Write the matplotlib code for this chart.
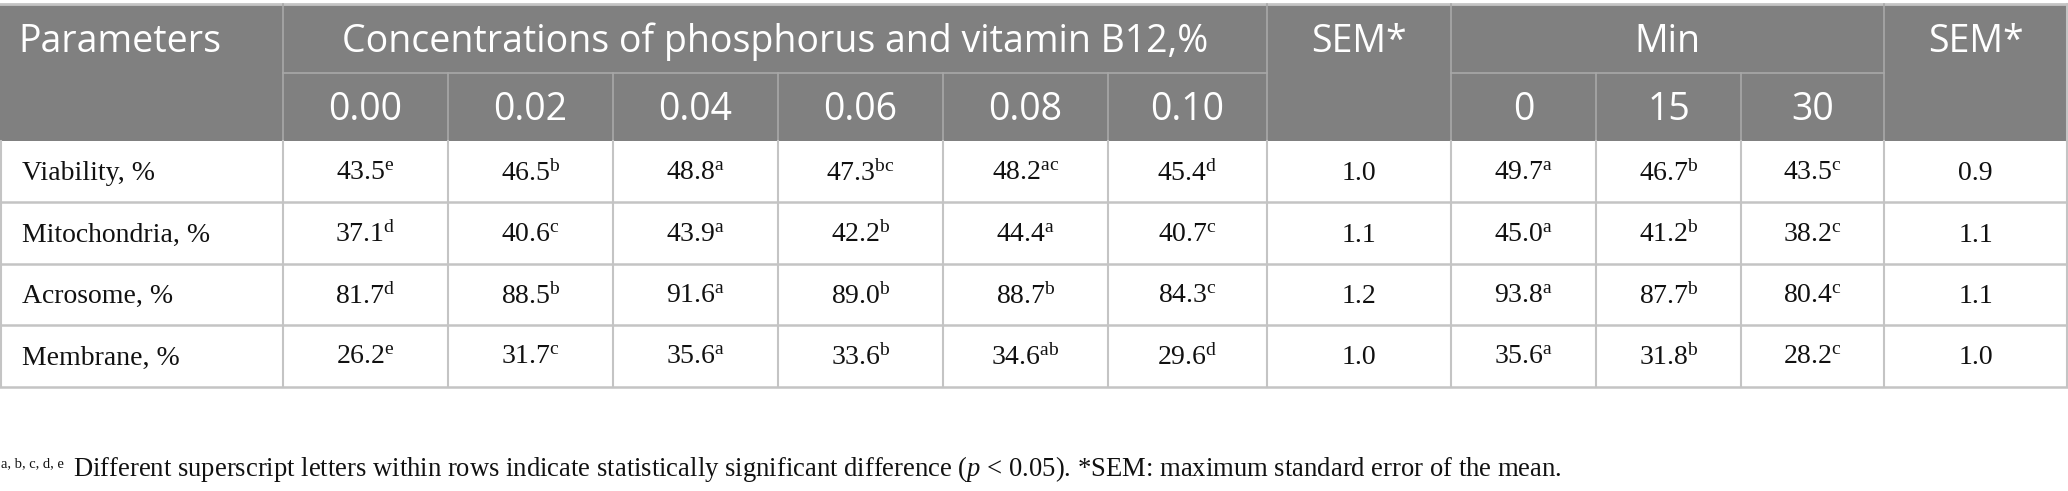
import matplotlib.pyplot as plt
from matplotlib.patches import Rectangle

plt.rcParams['mathtext.fontset'] = 'custom'
plt.rcParams['mathtext.rm'] = 'Liberation Serif'
plt.rcParams['mathtext.it'] = 'Liberation Serif:italic'

# table content
params = ['Viability, %', 'Mitochondria, %', 'Acrosome, %', 'Membrane, %']
conc_labels = ['0.00', '0.02', '0.04', '0.06', '0.08', '0.10']
min_labels = ['0', '15', '30']

conc_vals = [
    ['43.5', '46.5', '48.8', '47.3', '48.2', '45.4'],
    ['37.1', '40.6', '43.9', '42.2', '44.4', '40.7'],
    ['81.7', '88.5', '91.6', '89.0', '88.7', '84.3'],
    ['26.2', '31.7', '35.6', '33.6', '34.6', '29.6'],
]
conc_sup = [
    ['e', 'b', 'a', 'bc', 'ac', 'd'],
    ['d', 'c', 'a', 'b', 'a', 'c'],
    ['d', 'b', 'a', 'b', 'b', 'c'],
    ['e', 'c', 'a', 'b', 'ab', 'd'],
]
sem_conc = ['1.0', '1.1', '1.2', '1.0']
min_vals = [
    ['49.7', '46.7', '43.5'],
    ['45.0', '41.2', '38.2'],
    ['93.8', '87.7', '80.4'],
    ['35.6', '31.8', '28.2'],
]
min_sup = [
    ['a', 'b', 'c'],
    ['a', 'b', 'c'],
    ['a', 'b', 'c'],
    ['a', 'b', 'c'],
]
sem_min = ['0.9', '1.1', '1.1', '1.0']

# layout in pixels
W, H = 2068, 491
xs = [1, 283, 448, 613, 778, 943, 1108, 1267, 1451, 1596, 1741, 1884, 2067]
y_top, y_sub, y_head = 4, 73, 141
row_y = [141, 202, 264, 325, 387]

HEAD_BG = '#808080'
HEAD_LINE = '#a8a8a8'
BODY_LINE = '#c4c4c4'
hfont = dict(family='Open Sans', color='white', fontsize=27)
bfont = dict(family='Liberation Serif', color='#111111', fontsize=20)

fig = plt.figure(figsize=(W / 100, H / 100), dpi=100)
ax = fig.add_axes([0, 0, 1, 1])
ax.set_xlim(0, W)
ax.set_ylim(H, 0)
ax.axis('off')

# header background
ax.add_patch(Rectangle((0, y_top), xs[-1], y_head - y_top, facecolor=HEAD_BG,
                       edgecolor='none'))

# header lines
ax.plot([0, xs[-1]], [y_top, y_top], color=BODY_LINE, lw=2)
ax.plot([xs[1], xs[7]], [y_sub, y_sub], color=HEAD_LINE, lw=1.2)
ax.plot([xs[8], xs[11]], [y_sub, y_sub], color=HEAD_LINE, lw=1.2)
for i in [1, 7, 8, 11]:
    ax.plot([xs[i], xs[i]], [y_top, y_head], color=HEAD_LINE, lw=1.2)
for i in [2, 3, 4, 5, 6, 9, 10]:
    ax.plot([xs[i], xs[i]], [y_sub, y_head], color=HEAD_LINE, lw=1.2)
ax.plot([xs[-1], xs[-1]], [y_top, y_head], color=BODY_LINE, lw=1.5)

# body lines
for y in row_y[1:]:
    ax.plot([0, xs[-1]], [y, y], color=BODY_LINE, lw=1.8)
for x in xs:
    ax.plot([x, x], [row_y[0], row_y[-1]], color=BODY_LINE, lw=1.5)

# header texts
hy1 = 42
hy2 = 110
ax.text(18, hy1, 'Parameters', ha='left', va='center', **hfont)
ax.text((xs[1] + xs[7]) / 2, hy1, 'Concentrations of phosphorus and vitamin B12,%',
        ha='center', va='center', **hfont)
ax.text((xs[7] + xs[8]) / 2, hy1, 'SEM*', ha='center', va='center', **hfont)
ax.text((xs[8] + xs[11]) / 2, hy1, 'Min', ha='center', va='center', **hfont)
ax.text((xs[11] + xs[12]) / 2, hy1, 'SEM*', ha='center', va='center', **hfont)
for j, lab in enumerate(conc_labels):
    ax.text((xs[1 + j] + xs[2 + j]) / 2, hy2, lab, ha='center', va='center', **hfont)
for j, lab in enumerate(min_labels):
    ax.text((xs[8 + j] + xs[9 + j]) / 2, hy2, lab, ha='center', va='center', **hfont)

# body texts
for r, name in enumerate(params):
    yc = (row_y[r] + row_y[r + 1]) / 2 + 2
    ax.text(22, yc, name, ha='left', va='center', **bfont)
    for j in range(6):
        s = conc_vals[r][j] + r'$^{\mathrm{' + conc_sup[r][j] + '}}$'
        ax.text((xs[1 + j] + xs[2 + j]) / 2, yc, s, ha='center', va='center', **bfont)
    ax.text((xs[7] + xs[8]) / 2, yc, sem_conc[r], ha='center', va='center', **bfont)
    for j in range(3):
        s = min_vals[r][j] + r'$^{\mathrm{' + min_sup[r][j] + '}}$'
        ax.text((xs[8 + j] + xs[9 + j]) / 2, yc, s, ha='center', va='center', **bfont)
    ax.text((xs[11] + xs[12]) / 2, yc, sem_min[r], ha='center', va='center', **bfont)

# footnote
fn_y = 476
ax.text(1, fn_y - 9, 'a, b, c, d, e', ha='left', va='baseline',
        family='Liberation Serif', fontsize=10.5, color='#111111')
ax.text(73, fn_y, r'Different superscript letters within rows indicate statistically '
        r'significant difference ($p$ < 0.05). *SEM: maximum standard error of the mean.',
        ha='left', va='baseline', family='Liberation Serif', fontsize=19.2,
        color='#111111')

fig.savefig('out.png', dpi=100)
